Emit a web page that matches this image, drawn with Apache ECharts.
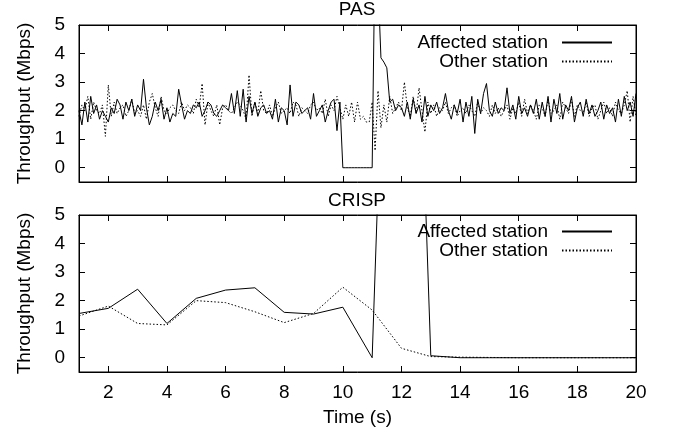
<!DOCTYPE html>
<html>
<head>
<meta charset="utf-8">
<script src="https://cdn.jsdelivr.net/npm/echarts@6/dist/echarts.min.js"></script>
<style>
html, body { margin: 0; padding: 0; background: #fff; }
#chart { width: 673px; height: 434px; }
</style>
</head>
<body>
<div id="chart"></div>
<script>
// PAS: samples every 0.1 s from 1.0 s to 20.0 s
var pasStart = 1.0;
var pasStep = 0.1;
var pasAffected = [
	2.0, 1.5, 2.3, 1.6, 2.5, 1.9, 2.2, 1.7, 2.0, 1.8,
	1.6, 2.1, 1.9, 2.4, 2.2, 1.7, 2.3, 2.0, 2.4, 1.8,
	2.2, 2.0, 3.1, 2.1, 1.5, 1.8, 2.3, 2.0, 2.4, 1.7,
	2.1, 1.6, 1.9, 1.8, 2.75, 2.2, 1.7, 2.0, 1.9, 2.2,
	2.1, 2.3, 1.8, 2.0, 2.3, 2.2, 1.9, 1.8, 2.0, 2.2,
	2.1, 2.0, 2.6, 1.9, 2.7, 1.8, 2.75, 1.6, 2.5, 1.9,
	2.3, 1.8, 2.1, 2.2, 1.9, 2.0, 1.7, 2.4, 1.6, 2.1,
	2.0, 1.5, 2.9, 1.8, 2.3, 2.2, 1.9, 2.0, 2.1, 1.7,
	2.6, 1.8, 2.0, 2.2, 1.6, 2.0, 2.3, 2.4, 1.3, 2.3,
	0, 0, 0, 0, 0, 0, 0, 0, 0, 0,
	0, 8.0, 6.5, 3.85, 3.7, 3.5, 2.3, 2.4, 2.0, 2.2,
	2.1, 1.8, 2.3, 1.7, 2.4, 1.9, 2.2, 1.6, 2.5, 1.8,
	2.2, 2.0, 2.3, 1.9, 2.1, 2.6, 2.0, 1.7, 2.2, 1.9,
	2.4, 1.6, 2.3, 1.8, 2.5, 1.2, 2.4, 1.9, 2.6, 2.95,
	2.0, 1.8, 2.3, 1.9, 2.1, 2.0, 2.8, 1.9, 2.2, 1.7,
	2.5, 1.9, 2.1, 1.8, 2.2, 1.9, 2.4, 1.7, 2.3, 1.8,
	2.5, 1.6, 2.4, 1.9, 2.6, 1.7, 2.2, 2.0, 2.5, 1.6,
	2.1, 2.3, 1.8, 2.4, 1.9, 2.2, 1.8, 2.0, 2.3, 1.7,
	2.2, 1.9, 2.1, 1.6, 2.4, 1.8, 2.5, 2.0, 2.3, 1.8,
	2.6
];
var pasOther = [
	1.8, 2.2, 2.0, 2.5, 1.7, 2.3, 2.0, 1.9, 2.2, 1.1,
	2.9, 1.8, 2.3, 1.9, 2.1, 2.2, 1.8, 2.0, 2.4, 1.9,
	2.0, 1.8, 2.2, 1.7, 2.3, 2.6, 2.1, 1.8, 2.5, 2.0,
	1.9, 2.1, 2.2, 2.0, 1.9, 2.3, 2.0, 2.2, 2.1, 1.9,
	2.4, 2.1, 2.95, 1.5, 2.3, 2.0, 1.8, 2.2, 1.5, 2.1,
	2.2, 2.0, 1.9, 2.1, 2.3, 2.2, 2.0, 1.7, 3.25, 1.8,
	2.3, 1.9, 2.7, 2.0, 1.9, 2.2, 1.8, 2.1, 2.3, 1.9,
	2.0, 2.1, 1.9, 2.3, 2.2, 1.8, 2.1, 2.0, 1.9, 2.2,
	2.3, 2.0, 2.1, 1.9, 2.4, 1.8, 2.2, 2.0, 2.5, 2.1,
	1.7, 2.2, 1.8, 2.3, 1.6, 2.3, 1.7, 1.8, 1.6, 1.6,
	2.3, 0.6, 2.7, 1.4, 2.2, 1.6, 2.5, 1.9, 2.1, 2.3,
	2.0, 3.0, 2.1, 1.8, 2.5, 1.9, 2.8, 2.0, 1.25, 2.3,
	1.9, 2.2, 1.8, 2.1, 2.0, 2.3, 1.9, 2.1, 2.2, 1.8,
	2.0, 2.1, 1.9, 2.2, 2.0, 1.8, 2.3, 1.9, 2.1, 2.0,
	1.8, 2.2, 1.9, 2.1, 1.8, 2.0, 2.2, 1.7, 2.1, 1.9,
	2.3, 1.8, 2.4, 1.9, 2.2, 2.0, 1.7, 2.2, 2.1, 1.8,
	2.4, 1.9, 2.0, 2.2, 1.7, 2.3, 2.1, 1.9, 2.4, 1.8,
	2.2, 2.0, 1.9, 2.3, 1.8, 2.1, 2.2, 1.7, 2.0, 2.3,
	1.9, 2.1, 1.8, 2.3, 2.0, 1.9, 2.2, 2.7, 1.6, 2.5,
	1.8
];

// CRISP: one sample per second
var crispTime = [1, 2, 3, 4, 5, 6, 7, 8, 9, 10, 11, 12, 13, 14, 15, 16, 17, 18, 19, 20];
var crispAffected = [1.55, 1.73, 2.4, 1.2, 2.08, 2.37, 2.45, 1.59, 1.53, 1.77, 0, 30, 0.07, 0, 0, 0, 0, 0, 0, 0];
var crispOther = [1.46, 1.81, 1.2, 1.15, 2.0, 1.93, 1.61, 1.23, 1.55, 2.47, 1.67, 0.33, 0.04, 0.02, 0.01, 0, 0, 0, 0, 0];

var xTicks = [2, 4, 6, 8, 10, 12, 14, 16, 18, 20];
var yTicks = [0, 1, 2, 3, 4, 5];

var FONT = 'Liberation Sans';
var FS = 19;

function pairs(times, values) {
	var out = [];
	for (var i = 0; i < values.length; i++) {
		out.push([times[i], values[i]]);
	}
	return out;
}

var pasTime = [];
for (var i = 0; i < pasAffected.length; i++) {
	pasTime.push(Math.round((pasStart + i * pasStep) * 10) / 10);
}

function xAxisCfg(grid, pos, labels, name) {
	return {
		type: 'value', gridIndex: grid, position: pos, min: 1, max: 20,
		name: name || '', nameLocation: 'middle', nameGap: 36,
		nameTextStyle: { color: '#000', fontFamily: FONT, fontSize: FS },
		axisLine: { show: true, onZero: false, lineStyle: { color: '#000', width: 1 } },
		axisTick: { show: true, inside: true, length: 6, customValues: xTicks, lineStyle: { color: '#000' } },
		axisLabel: { show: labels, customValues: xTicks, color: '#000', fontFamily: FONT, fontSize: FS, margin: 11 },
		splitLine: { show: false }
	};
}

function yAxisCfg(grid, pos, labels, name) {
	return {
		type: 'value', gridIndex: grid, position: pos, min: -0.5, max: 5,
		name: name || '', nameLocation: 'middle', nameGap: 45,
		nameTextStyle: { color: '#000', fontFamily: FONT, fontSize: FS },
		axisLine: { show: true, onZero: false, lineStyle: { color: '#000', width: 1 } },
		axisTick: { show: true, inside: true, length: 6, customValues: yTicks, lineStyle: { color: '#000' } },
		axisLabel: { show: labels, customValues: yTicks, color: '#000', fontFamily: FONT, fontSize: FS, margin: 14 },
		splitLine: { show: false }
	};
}

function legendCfg(top) {
	return {
		orient: 'vertical', right: 55, top: top, align: 'right',
		itemWidth: 50, itemHeight: 12, itemGap: 0,
		itemStyle: { opacity: 0 },
		textStyle: { color: '#000', fontFamily: FONT, fontSize: FS, lineHeight: 19, padding: [0, 9, 0, 0] },
		data: ['Affected station', 'Other station'],
		selectedMode: false
	};
}

function lineSeries(name, x, y, data, dotted) {
	return {
		name: name, type: 'line', xAxisIndex: x, yAxisIndex: y,
		data: data, showSymbol: false, symbol: 'none', animation: false,
		lineStyle: { color: '#000', width: 1, type: dotted ? [1.5, 2] : 'solid' },
		itemStyle: { color: '#000' }
	};
}

var myChart = echarts.init(document.getElementById('chart'));
var option = {
	backgroundColor: '#fff',
	animation: false,
	title: [
		{ text: 'PAS', left: 357, top: 0, padding: 0, textAlign: 'center', textStyle: { color: '#000', fontFamily: FONT, fontSize: FS, fontWeight: 'normal' } },
		{ text: 'CRISP', left: 357, top: 191, padding: 0, textAlign: 'center', textStyle: { color: '#000', fontFamily: FONT, fontSize: FS, fontWeight: 'normal' } }
	],
	legend: [legendCfg(28), legendCfg(217)],
	grid: [
		{ left: 79, right: 37, top: 25, height: 157, show: true, borderColor: '#000', borderWidth: 1 },
		{ left: 79, right: 37, top: 215, height: 157, show: true, borderColor: '#000', borderWidth: 1 }
	],
	xAxis: [
		xAxisCfg(0, 'bottom', false),
		xAxisCfg(0, 'top', false),
		xAxisCfg(1, 'bottom', true, 'Time (s)'),
		xAxisCfg(1, 'top', false)
	],
	yAxis: [
		yAxisCfg(0, 'left', true, 'Throughput (Mbps)'),
		yAxisCfg(0, 'right', false),
		yAxisCfg(1, 'left', true, 'Throughput (Mbps)'),
		yAxisCfg(1, 'right', false)
	],
	series: [
		lineSeries('Affected station', 0, 0, pairs(pasTime, pasAffected), false),
		lineSeries('Other station', 0, 0, pairs(pasTime, pasOther), true),
		lineSeries('Affected station', 2, 2, pairs(crispTime, crispAffected), false),
		lineSeries('Other station', 2, 2, pairs(crispTime, crispOther), true)
	]
};
myChart.setOption(option);
</script>
</body>
</html>
